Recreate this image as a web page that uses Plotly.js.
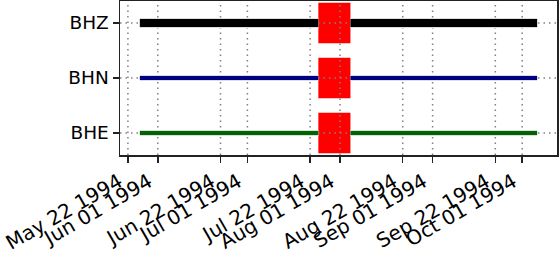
<!DOCTYPE html>
<html>
<head>
<meta charset="utf-8">
<script src="https://cdn.plot.ly/plotly-3.0.1.min.js"></script>
<style>html,body{margin:0;padding:0;background:#fff}#chart{width:559px;height:253px}</style>
</head>
<body>
<div id="chart"></div>
<script>
// channels (bottom to top)
const channels = ["BHE", "BHN", "BHZ"];
const channelPos = [0, 1, 2];
const lineColors = ["#006400", "#000080", "#000000"];
const lineWidths = [4, 4, 8];
// data availability segments (same for each channel)
const segStarts = ["1994-05-26 00:00", "1994-08-04 12:00"];
const segEnds = ["1994-07-24 18:00", "1994-10-06 00:00"];
// gaps
const gapStarts = ["1994-07-24 18:00"];
const gapEnds = ["1994-08-04 12:00"];
const gapHalfHeight = 0.37;
// axis
const xRange = ["1994-05-19 08:24", "1994-10-12 15:36"];
const yRange = [-0.4, 2.4];
const tickVals = ["1994-05-22", "1994-06-01", "1994-06-22", "1994-07-01", "1994-07-22",
                  "1994-08-01", "1994-08-22", "1994-09-01", "1994-09-22", "1994-10-01"];
const tickText = ["May 22 1994", "Jun 01 1994", "Jun 22 1994", "Jul 01 1994", "Jul 22 1994",
                  "Aug 01 1994", "Aug 22 1994", "Sep 01 1994", "Sep 22 1994", "Oct 01 1994"];

const traces = [];
// gap patches (lowest)
channels.forEach((ch, i) => {
  gapStarts.forEach((g, j) => {
    const y0 = channelPos[i] - gapHalfHeight, y1 = channelPos[i] + gapHalfHeight;
    traces.push({x: [g, gapEnds[j], gapEnds[j], g, g], y: [y0, y0, y1, y1, y0],
      mode: "lines", fill: "toself", fillcolor: "#ff0000", line: {width: 0, color: "#ff0000"},
      showlegend: false, hoverinfo: "skip"});
  });
});
// grid (above patches, below lines, as in matplotlib)
const gridLine = {color: "#808080", width: 1.5, dash: "1.5px,4px"};
tickVals.forEach(t => traces.push({x: [t, t], y: yRange, mode: "lines", line: gridLine,
  showlegend: false, hoverinfo: "skip", cliponaxis: true}));
channelPos.forEach(p => traces.push({x: xRange, y: [p, p], mode: "lines", line: gridLine,
  showlegend: false, hoverinfo: "skip", cliponaxis: true}));
// availability lines
channels.forEach((ch, i) => {
  segStarts.forEach((s, j) => {
    traces.push({x: [s, segEnds[j]], y: [channelPos[i], channelPos[i]], mode: "lines",
      line: {color: "#dddddd", width: lineWidths[i] + 2}, hoverinfo: "skip", showlegend: false});
    traces.push({x: [s, segEnds[j]], y: [channelPos[i], channelPos[i]], mode: "lines",
      line: {color: lineColors[i], width: lineWidths[i]}, showlegend: false, name: ch});
  });
});

const yfont = {family: "DejaVu Sans", size: 18.5, color: "#000"};
const xfont = {family: "DejaVu Sans", size: 20, color: "#000"};
const layout = {
  width: 559, height: 253,
  margin: {l: 120, r: 1.5, t: 1, b: 98},
  paper_bgcolor: "#fff", plot_bgcolor: "#fff",
  font: yfont,
  showlegend: false,
  xaxis: {type: "date", range: xRange, tickvals: tickVals, ticktext: tickText,
    tickangle: -30, ticks: "outside", ticklen: 6, tickwidth: 1.5, tickcolor: "#222",
    ticklabelshift: -9,
    showgrid: false, zeroline: false, showline: true, mirror: true, linecolor: "#222", linewidth: 1.5,
    tickfont: xfont, automargin: false, fixedrange: true},
  yaxis: {range: yRange, tickvals: channelPos, ticktext: channels,
    ticks: "outside", ticklen: 6, tickwidth: 1.5, tickcolor: "#222",
    showgrid: false, zeroline: false, showline: true, mirror: true, linecolor: "#222", linewidth: 1.5,
    tickfont: yfont, automargin: false, fixedrange: true}
};
Plotly.newPlot("chart", traces, layout, {staticPlot: true, displayModeBar: false});
</script>
</body>
</html>
